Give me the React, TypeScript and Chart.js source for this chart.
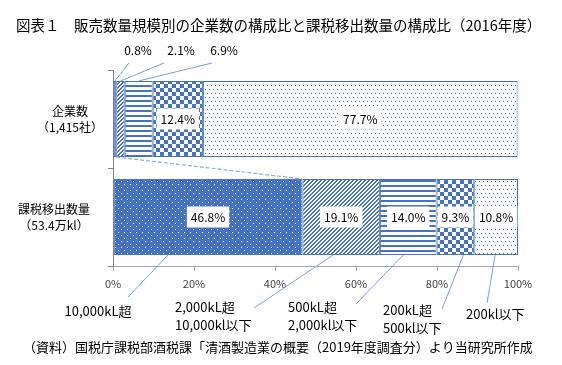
import React, { useEffect, useRef } from "react";
import { Chart, registerables } from "chart.js";

Chart.register(...registerables);

const titleText = "図表１　販売数量規模別の企業数の構成比と課税移出数量の構成比（2016年度）";
const footerText = "（資料）国税庁課税部酒税課「清酒製造業の概要（2019年度調査分）より当研究所作成";
const categories = ["企業数", "課税移出数量"];
const categorySubLabels = ["（1,415社）", "（53.4万kl）"];
const seriesLabelLines = [
  ["10,000kL超"],
  ["2,000kL超", "10,000kl以下"],
  ["500kL超", "2,000kl以下"],
  ["200kL超", "500kl以下"],
  ["200kl以下"],
];
const companyShare = [0.8, 2.1, 6.9, 12.4, 77.7];
const volumeShare = [46.8, 19.1, 14.0, 9.3, 10.8];
const xTicks = [0, 20, 40, 60, 80, 100];

const BLUE = "#4472C4";
const LEADER = "#7F9FD8";
const FONT = '"Noto Sans CJK JP", "Noto Sans", sans-serif';

function makePattern(kind: number): CanvasPattern | string {
  const c = document.createElement("canvas");
  const g = c.getContext("2d")!;
  const px = (x: number, y: number, col: string) => {
    g.fillStyle = col;
    g.fillRect(x, y, 1, 1);
  };
  if (kind === 0) {
    c.width = 6; c.height = 6;
    g.fillStyle = BLUE; g.fillRect(0, 0, 6, 6);
    px(1, 1, "#fff"); px(4, 4, "#fff");
  } else if (kind === 1) {
    c.width = 4; c.height = 4;
    g.fillStyle = "#fff"; g.fillRect(0, 0, 4, 4);
    for (let x = 0; x < 4; x++) for (let y = 0; y < 4; y++) if ((x + y) % 4 < 2) px(x, y, BLUE);
  } else if (kind === 2) {
    c.width = 4; c.height = 5;
    g.fillStyle = "#fff"; g.fillRect(0, 0, 4, 5);
    g.fillStyle = BLUE; g.fillRect(0, 0, 4, 2);
  } else if (kind === 3) {
    c.width = 8; c.height = 8;
    g.fillStyle = "#fff"; g.fillRect(0, 0, 8, 8);
    g.fillStyle = BLUE; g.fillRect(0, 0, 4, 4); g.fillRect(4, 4, 4, 4);
  } else {
    c.width = 4; c.height = 8;
    g.fillStyle = "#fff"; g.fillRect(0, 0, 4, 8);
    px(1, 1, BLUE); px(3, 5, BLUE);
  }
  const p = g.createPattern(c, "repeat");
  return p || BLUE;
}

// annotation layout (pixel offsets, not data)
const topOutsideOffsets = [
  { dx: 25, dy: -20, lx: -9 },
  { dx: 68, dy: -20, lx: -17 },
  { dx: 111, dy: -20, lx: -12 },
];
const bottomLabelLayout = [
  { x: 98, y: 311, align: "center", sx: 128, sy: 297, edx: -40 },
  { x: 175, y: 307, align: "left", sx: 254, sy: 308, edx: -8 },
  { x: 288, y: 307, align: "left", sx: 356, sy: 304, edx: -5 },
  { x: 383, y: 310, align: "left", sx: 442, sy: 309, edx: 8 },
  { x: 466, y: 314, align: "left", sx: 487, sy: 303, edx: -1 },
];

export default function App() {
  const ref = useRef<HTMLCanvasElement>(null);
  useEffect(() => {
    if (!ref.current) return;
    const patterns = [0, 1, 2, 3, 4].map((k) => makePattern(k));
    const datasets = seriesLabelLines.map((lines, i) => ({
      label: lines.join(""),
      data: [companyShare[i], volumeShare[i]],
      backgroundColor: patterns[i],
      borderColor: BLUE,
      borderWidth: 1,
      borderSkipped: false,
      categoryPercentage: 1,
      barPercentage: 0.776,
    }));

    const annot = {
      id: "annot",
      beforeDraw(chart: any) {
        const ctx = chart.ctx;
        ctx.save();
        ctx.fillStyle = "#fff";
        ctx.fillRect(0, 0, chart.width, chart.height);
        ctx.restore();
      },
      afterDatasetsDraw(chart: any) {
        const ctx = chart.ctx as CanvasRenderingContext2D;
        const ca = chart.chartArea;
        const metas = datasets.map((_, i) => chart.getDatasetMeta(i));
        const el = (i: number, j: number) => metas[i].data[j].getProps(["x", "y", "base", "height"], true);
        ctx.save();
        // series line
        {
          const a = el(0, 0), b = el(0, 1);
          ctx.strokeStyle = "#8FAADC";
          ctx.lineWidth = 1.2;
          ctx.setLineDash([4, 2]);
          ctx.beginPath();
          ctx.moveTo(a.x, a.y + a.height / 2);
          ctx.lineTo(b.x, b.y - b.height / 2);
          ctx.stroke();
          ctx.setLineDash([]);
        }
        ctx.font = `12px ${FONT}`;
        ctx.textBaseline = "middle";
        ctx.textAlign = "center";
        const boxLabel = (text: string, cx: number, cy: number) => {
          const w = ctx.measureText(text).width + 8;
          ctx.fillStyle = "#fff";
          ctx.fillRect(cx - w / 2, cy - 10.5, w, 21);
          ctx.fillStyle = "#000";
          ctx.fillText(text, cx, cy + 0.5);
        };
        // top bar
        for (let i = 0; i < 5; i++) {
          const e = el(i, 0);
          const cx = (e.x + e.base) / 2;
          const v = companyShare[i].toFixed(1) + "%";
          if (i < 3) {
            const o = topOutsideOffsets[i];
            const lx = ca.left + o.dx;
            const ly = ca.top + o.dy;
            ctx.fillStyle = "#000";
            ctx.fillText(v, lx, ly);
            ctx.strokeStyle = LEADER;
            ctx.lineWidth = 1;
            ctx.beginPath();
            ctx.moveTo(lx + o.lx, ly + 13);
            ctx.lineTo(cx, e.y - e.height / 2);
            ctx.stroke();
          } else {
            boxLabel(v, cx, e.y);
          }
        }
        // bottom bar
        for (let i = 0; i < 5; i++) {
          const e = el(i, 1);
          const cx = (e.x + e.base) / 2;
          boxLabel(volumeShare[i].toFixed(1) + "%", cx, e.y);
          const L = bottomLabelLayout[i];
          ctx.strokeStyle = LEADER;
          ctx.lineWidth = 1;
          ctx.beginPath();
          ctx.moveTo(L.sx, L.sy);
          ctx.lineTo(cx + L.edx, e.y + e.height / 2);
          ctx.stroke();
        }
        ctx.restore();
      },
      afterDraw(chart: any) {
        const ctx = chart.ctx as CanvasRenderingContext2D;
        const ys = chart.scales.y;
        ctx.save();
        ctx.textBaseline = "middle";
        ctx.fillStyle = "#000";
        ctx.font = `14.5px ${FONT}`;
        ctx.textAlign = "left";
        ctx.fillText(titleText, 16, 25);
        ctx.font = `13px ${FONT}`;
        ctx.fillText(footerText, 23, 347);
        // category labels
        ctx.font = `12px ${FONT}`;
        ctx.textAlign = "center";
        const centers = [70, 54];
        categories.forEach((c, j) => {
          const y = ys.getPixelForValue(j);
          ctx.fillText(c, centers[j], y - 8);
          ctx.fillText(categorySubLabels[j], centers[j], y + 8);
        });
        // series labels
        ctx.font = `13px ${FONT}`;
        seriesLabelLines.forEach((lines, i) => {
          const L = bottomLabelLayout[i];
          ctx.textAlign = L.align as CanvasTextAlign;
          lines.forEach((t, k) => ctx.fillText(t, L.x, L.y + k * 18));
        });
        ctx.restore();
      },
    };

    const chart = new Chart(ref.current, {
      type: "bar",
      data: { labels: categories, datasets },
      options: {
        indexAxis: "y",
        animation: false,
        responsive: false,
        devicePixelRatio: 1,
        layout: { padding: { left: 0, right: 44, top: 70, bottom: 0 } },
        plugins: { legend: { display: false }, tooltip: { enabled: false }, title: { display: false } },
        scales: {
          x: {
            stacked: true,
            min: 0,
            max: 100,
            afterFit: (s: any) => { s.height = 99; },
            afterBuildTicks: (s: any) => { s.ticks = xTicks.map((v) => ({ value: v })); },
            ticks: {
              callback: (v: any) => v + "%",
              color: "#404040",
              font: { family: FONT, size: 11 },
              padding: 6,
              maxRotation: 0,
            },
            grid: { drawOnChartArea: false, drawTicks: true, tickLength: 5, color: "#A6A6A6" },
            border: { color: "#A6A6A6" },
          },
          y: {
            stacked: true,
            afterFit: (s: any) => { s.width = 113; },
            ticks: { color: "rgba(0,0,0,0)", font: { size: 11 } },
            grid: { offset: true, drawOnChartArea: false, drawTicks: true, tickLength: 5, color: "#868686" },
            border: { color: "#868686" },
          },
        },
      },
      plugins: [annot],
    } as any);
    return () => chart.destroy();
  }, []);
  return (
    <div style={{ position: "absolute", left: 0, top: 0, width: 562, height: 365 }}>
      <canvas ref={ref} width={562} height={365} />
    </div>
  );
}
